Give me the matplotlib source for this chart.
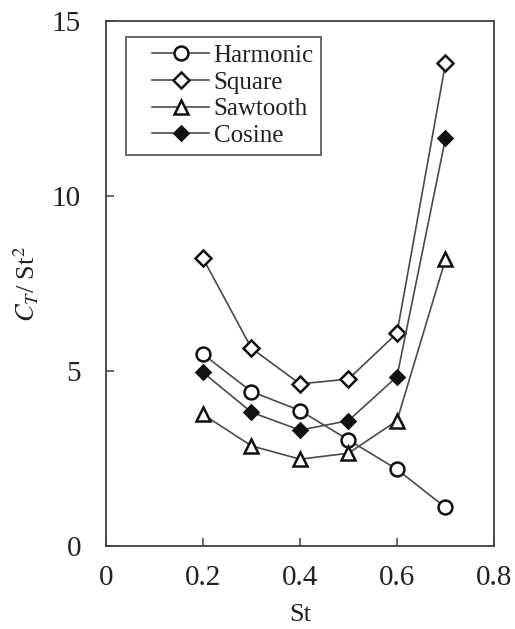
import matplotlib

matplotlib.use("Agg")
import matplotlib.pyplot as plt  # noqa: E402
from matplotlib.legend_handler import HandlerLine2D  # noqa: E402

plt.rcParams["font.family"] = ["Liberation Serif", "DejaVu Serif"]
plt.rcParams["mathtext.fontset"] = "stix"

# Thrust coefficient over St^2 for four flapping waveforms
st = [0.2, 0.3, 0.4, 0.5, 0.6, 0.7]
harmonic = [5.48, 4.41, 3.87, 3.03, 2.19, 1.10]
square = [8.22, 5.65, 4.63, 4.77, 6.08, 13.79]
sawtooth = [3.76, 2.86, 2.48, 2.65, 3.58, 8.19]
cosine = [4.96, 3.82, 3.31, 3.58, 4.84, 11.65]

LINE = "#4a4a4a"
INK = "#111111"

fig = plt.figure(figsize=(5.15, 6.29), dpi=100)
ax = fig.add_axes([0.2058, 0.132, 0.7534, 0.8346])

style = dict(color=LINE, linewidth=1.2, markeredgewidth=1.8, markeredgecolor=INK)
ax.plot(st, harmonic, marker="o", markersize=10, markerfacecolor="white",
        label="Harmonic", **style)
ax.plot(st, square, marker="D", markersize=8, markerfacecolor="white",
        label="Square", **style)
ax.plot(st, sawtooth, marker="^", markersize=10, markerfacecolor="white",
        label="Sawtooth", **style)
ax.plot(st, cosine, marker="D", markersize=7, markerfacecolor=INK,
        label="Cosine", **style)

ax.set_xlim(0, 0.8)
ax.set_ylim(0, 15)
ax.set_xticks([0, 0.2, 0.4, 0.6, 0.8])
ax.set_xticklabels(["0", "0.2", "0.4", "0.6", "0.8"])
ax.set_yticks([0, 5, 10, 15])

for s in ax.spines.values():
    s.set_color("#404040")
    s.set_linewidth(1.3)

ax.tick_params(axis="both", direction="in", length=6, width=1.1, color="#404040",
               labelsize=21, labelcolor="#222222")
ax.tick_params(axis="y", pad=18)
ax.tick_params(axis="x", pad=14)

ax.set_xlabel("St", fontsize=19, color="#222222", labelpad=9)
ax.set_ylabel(r"$C_T$/ St$^2$", fontsize=19, color="#222222", labelpad=8)

# indent the handle lines inside the legend frame
leg = ax.legend(loc="upper left", bbox_to_anchor=(0.052, 0.97), fontsize=18,
                frameon=True, fancybox=False, handlelength=3.0, handletextpad=0.2,
                labelspacing=0.17, borderpad=0.3, borderaxespad=0,
                handler_map={plt.Line2D: HandlerLine2D(xpad=0.75)})
leg.get_frame().set_edgecolor("#333333")
leg.get_frame().set_linewidth(1.3)
for t in leg.get_texts():
    t.set_color("#222222")

fig.savefig("out.png", dpi=100, facecolor="white")
